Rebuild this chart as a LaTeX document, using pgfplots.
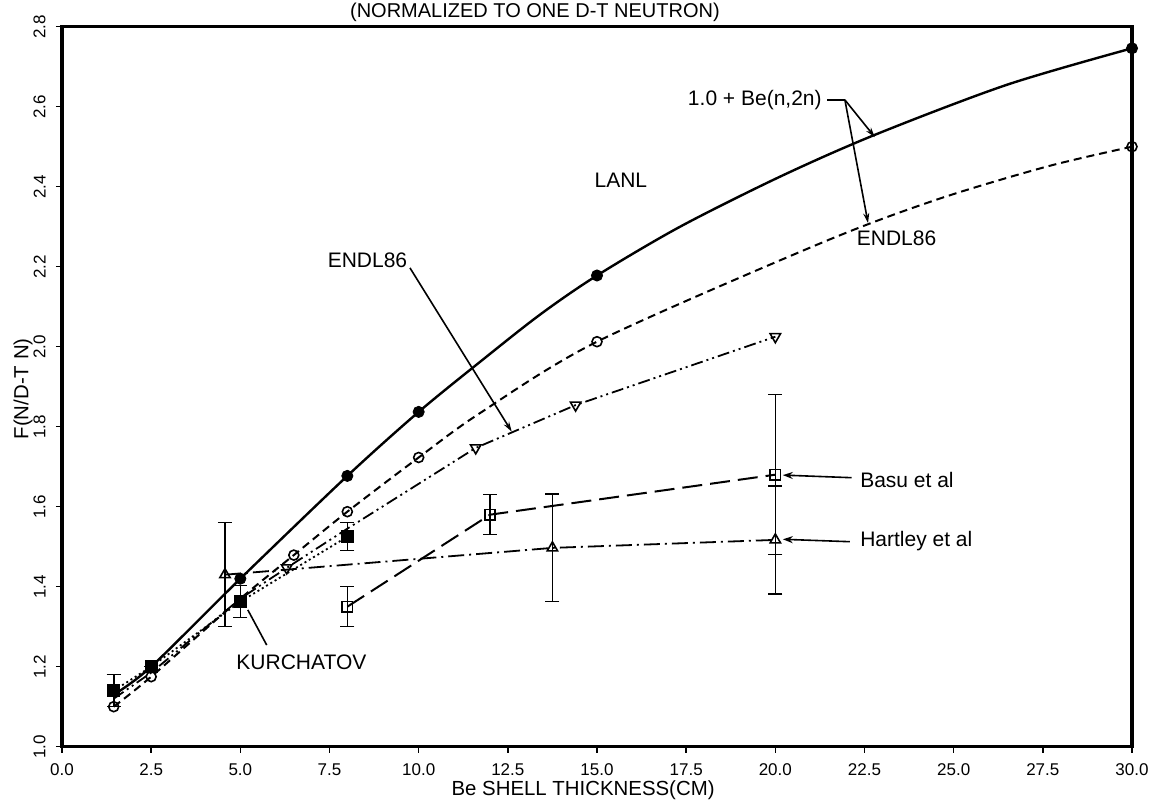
\documentclass[border=0pt]{standalone}
\usepackage{fontspec}
\setmainfont{Liberation Sans}
\usepackage{pgfplots}
\pgfplotsset{compat=1.18}
\usetikzlibrary{arrows.meta}

\begin{document}
\begin{tikzpicture}
\begin{axis}[
    name=ax,
    width=535pt, height=360pt, scale only axis,
    xmin=0, xmax=30, ymin=1.0, ymax=2.8,
    xtick={0,2.5,5,7.5,10,12.5,15,17.5,20,22.5,25,27.5,30},
    ytick={1.0,1.2,1.4,1.6,1.8,2.0,2.2,2.4,2.6,2.8},
    tick pos=left, tick align=outside,
    major tick length=3pt,
    tick style={line width=0.8pt, black},
    axis line style={line width=1.6pt},
    /pgf/number format/.cd, fixed, fixed zerofill, precision=1, assume math mode=true,
    /pgfplots/.cd,
    tick label style={font=\fontsize{8.5}{10}\selectfont},
    xticklabel style={anchor=north, inner sep=0pt},
    xticklabel shift=5.5pt,
    yticklabel style={rotate=90, anchor=south, inner sep=0pt},
    yticklabel shift=5pt,
    xlabel={Be SHELL THICKNESS(CM)},
    xlabel style={at={(rel axis cs:0.487,0)}, anchor=center, yshift=-21.8pt,
        font=\fontsize{10.2}{12}\selectfont},
    ylabel={F(N/D-T N)},
    ylabel style={at={(rel axis cs:0,0.497)}, anchor=center, yshift=19.5pt,
        font=\fontsize{10.2}{12}\selectfont},
    clip=false,
    every axis plot/.append style={black},
]

% LANL, 1.0 + Be(n,2n)
\addplot[line width=1.2pt, smooth, tension=0.5] coordinates {
    (1.45,1.13) (2.5,1.20) (5,1.42) (8,1.677) (10,1.837) (11.72,1.962)
    (13.4,2.08) (15,2.178) (17.33,2.300) (20.13,2.425) (22.8,2.530)
    (26.5,2.655) (30,2.746)
};
\addplot[only marks, mark=*, mark size=2.8pt] coordinates {
    (2.5,1.20) (5,1.42) (8,1.677) (10,1.837) (15,2.178) (30,2.746)
};

% ENDL86, 1.0 + Be(n,2n)
\addplot[line width=1pt, dash pattern=on 4pt off 2.5pt, smooth, tension=0.5] coordinates {
    (1.45,1.10) (2.5,1.175) (5,1.37) (6.5,1.479) (8,1.5875) (10,1.723)
    (11.72,1.834) (15,2.0125) (21.25,2.258) (24.5,2.367) (27.6,2.45) (30,2.50)
};
\addplot[only marks, mark=o, mark size=2.5pt, mark options={line width=0.8pt}] coordinates {
    (1.45,1.10) (2.5,1.175) (6.5,1.479) (8,1.5875) (10,1.723) (15,2.0125) (30,2.50)
};

% ENDL86 multiplication
\addplot[line width=0.9pt, dash pattern=on 6pt off 2pt on 1pt off 2pt on 1pt off 2pt] coordinates {
    (1.45,1.12) (2.5,1.185) (5,1.37) (6.3,1.447) (8,1.545) (11.6,1.747)
    (14.4,1.854) (20,2.025)
};
\addplot[only marks, mark=triangle, mark size=3pt, mark options={rotate=180, line width=0.8pt}] coordinates {
    (6.3,1.447) (11.6,1.747) (14.4,1.854) (20,2.025)
};

% Kurchatov
\addplot[line width=0.9pt, dash pattern=on 1pt off 1.5pt, mark=square*, mark size=2.8pt,
    mark options={solid},
    error bars/.cd, y dir=both, y explicit,
    error bar style={solid, line width=0.8pt},
    error mark options={mark size=3.5pt, rotate=90, line width=0.8pt}] coordinates {
    (1.45,1.14) +- (0,0.04)
    (2.5,1.20) +- (0,0)
    (5,1.3625) +- (0,0.04)
    (8,1.525) +- (0,0.035)
};

% Hartley et al
\addplot[line width=0.9pt, dash pattern=on 8pt off 2.5pt on 1pt off 2.5pt, mark=triangle, mark size=3pt,
    mark options={solid, line width=0.8pt, fill=white},
    error bars/.cd, y dir=both, y explicit,
    error bar style={solid, line width=0.8pt},
    error mark options={mark size=3.5pt, rotate=90, line width=0.8pt}] coordinates {
    (4.57,1.43) +- (0,0.13)
    (13.75,1.497) +- (0,0.134)
    (20,1.517) +- (0,0.135)
};

% Basu et al
\addplot[line width=1pt, dash pattern=on 10pt off 4pt, mark=square, mark size=2.6pt,
    mark options={solid, line width=0.8pt, fill=white},
    error bars/.cd, y dir=both, y explicit,
    error bar style={solid, line width=0.8pt},
    error mark options={mark size=3.5pt, rotate=90, line width=0.8pt}] coordinates {
    (8,1.35) +- (0,0.05)
    (12,1.58) +- (0,0.05)
    (20,1.68) +- (0,0.2)
};

% annotations
\node[font=\fontsize{10}{12}\selectfont, anchor=base] at (axis cs:13.26,2.824)
    {(NORMALIZED TO ONE D-T NEUTRON)};
\node[font=\fontsize{10.5}{12}\selectfont, anchor=east, inner sep=0pt] at (axis cs:21.31,2.617)
    {1.0 + Be(n,2n)};
\draw[line width=0.8pt] (axis cs:21.45,2.617) -- (axis cs:21.95,2.617);
\draw[line width=0.8pt, -{Stealth[length=5pt,width=3pt]}] (axis cs:21.95,2.617) -- (axis cs:22.79,2.524);
\draw[line width=0.8pt, -{Stealth[length=5pt,width=3pt]}] (axis cs:21.95,2.617) -- (axis cs:22.6,2.309);
\node[font=\fontsize{10.5}{12}\selectfont] at (axis cs:15.67,2.417) {LANL};
\node[font=\fontsize{10.5}{12}\selectfont] at (axis cs:8.565,2.217) {ENDL86};
\draw[line width=0.8pt, -{Stealth[length=5pt,width=3pt]}] (axis cs:9.756,2.197) -- (axis cs:12.61,1.7875);
\node[font=\fontsize{10.5}{12}\selectfont] at (axis cs:23.4,2.27) {ENDL86};
\node[font=\fontsize{10.5}{12}\selectfont, anchor=west, inner sep=0pt] at (axis cs:4.88,1.212) {KURCHATOV};
\draw[line width=0.8pt] (axis cs:5.74,1.254) -- (axis cs:5.21,1.342);
\node[font=\fontsize{10.5}{12}\selectfont, anchor=west, inner sep=0pt] at (axis cs:22.37,1.667) {Basu et al};
\draw[line width=0.8pt, -{Stealth[length=5pt,width=3.5pt]}] (axis cs:22.14,1.6725) -- (axis cs:20.21,1.679);
\node[font=\fontsize{10.5}{12}\selectfont, anchor=west, inner sep=0pt] at (axis cs:22.37,1.514) {Hartley et al};
\draw[line width=0.8pt, -{Stealth[length=5pt,width=3.5pt]}] (axis cs:22.09,1.5125) -- (axis cs:20.21,1.5185);
\end{axis}
\pgfresetboundingbox
\path[use as bounding box] ([xshift=-31pt,yshift=-28.15pt]ax.south west)
    rectangle ([xshift=12.5pt,yshift=13.35pt]ax.north east);
\end{tikzpicture}
\end{document}
